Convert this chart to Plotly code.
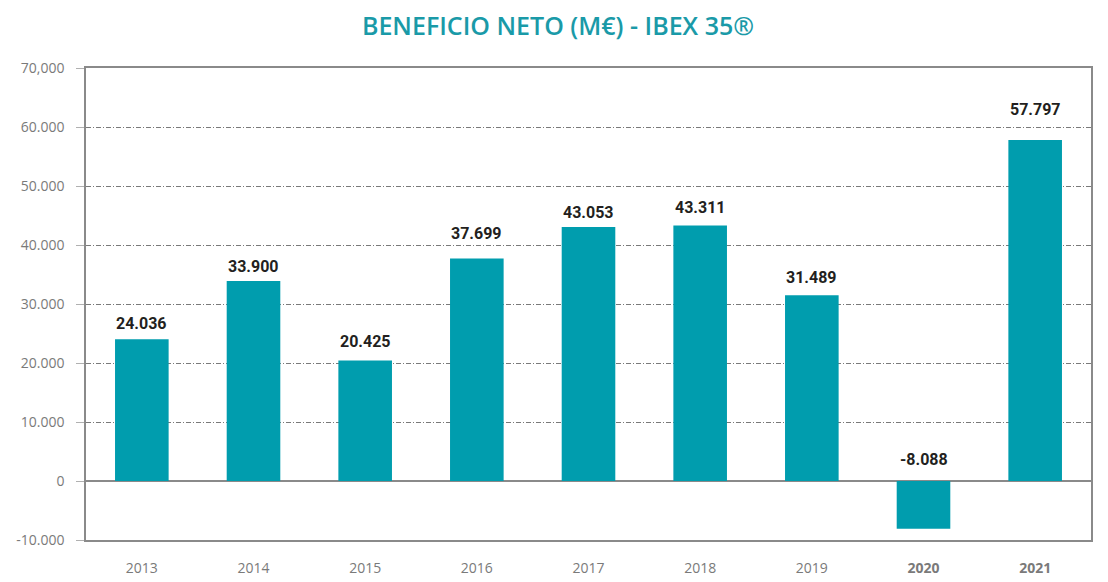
import plotly.graph_objects as go

years = [2013, 2014, 2015, 2016, 2017, 2018, 2019, 2020, 2021]
year_labels = ["2013", "2014", "2015", "2016", "2017", "2018", "2019", "<b>2020</b>", "<b>2021</b>"]
values = [24036, 33900, 20425, 37699, 43053, 43311, 31489, -8088, 57797]
value_labels = ["24.036", "33.900", "20.425", "37.699", "43.053", "43.311", "31.489", "-8.088", "57.797"]
y_ticks = [-10000, 0, 10000, 20000, 30000, 40000, 50000, 60000, 70000]
y_tick_labels = ["-10.000", "0", "10.000", "20.000", "30.000", "40.000", "50.000", "60.000", "70,000"]

# pixel nudges of the value labels (as placed in the original, clear of grid lines)
label_shift_px = [4, 3, 7, 14, 3, 6, 6, 10, 19]

BAR = "#009dae"
GRID = "#7a7a7a"
AXIS = "#8a8a8a"

fig = go.Figure()
fig.add_trace(go.Bar(
    x=years, y=values, marker=dict(color=BAR, line=dict(width=0)),
    hoverinfo="skip", showlegend=False,
))

for yr, v, lab, sh in zip(years, values, value_labels, label_shift_px):
    fig.add_annotation(
        x=yr, y=max(v, 0), text="<b>" + lab + "</b>", showarrow=False,
        yanchor="bottom", yshift=sh,
        font=dict(family="Roboto", size=16, color="#231f20"),
    )

fig.update_layout(
    width=1100, height=574,
    margin=dict(l=78, r=17, t=60, b=42, autoexpand=False),
    paper_bgcolor="white", plot_bgcolor="white",
    bargap=0.52,
    title=dict(
        text="BENEFICIO NETO (M€) - IBEX 35®",
        x=0.5, xanchor="center", y=0.968, yanchor="middle",
        font=dict(family="Open Sans", size=25, color="#1a9aa8", weight=600),
    ),
    xaxis=dict(
        range=[2012.5, 2021.5], tickvals=years, ticktext=year_labels,
        showgrid=False, showline=True, linecolor=AXIS, linewidth=1.5, mirror=True,
        zeroline=False, automargin=False,
        ticks="", tickfont=dict(family="Open Sans", size=14, color="#7a7a7a"),
        ticklabelstandoff=14,
    ),
    yaxis=dict(
        range=[-10000, 70000], tickvals=y_ticks, ticktext=y_tick_labels,
        showgrid=True, gridcolor=GRID, griddash="5px,2px,1px,2px", gridwidth=1,
        zeroline=True, zerolinecolor=AXIS, zerolinewidth=1.5,
        showline=True, linecolor=AXIS, linewidth=1.5, mirror=True, automargin=False,
        ticks="outside", ticklen=8, tickcolor="#b0b0b0", tickwidth=1,
        tickfont=dict(family="Open Sans", size=14, color="#7a7a7a"),
        ticklabelstandoff=9,
    ),
)

fig.write_html("out.html")
